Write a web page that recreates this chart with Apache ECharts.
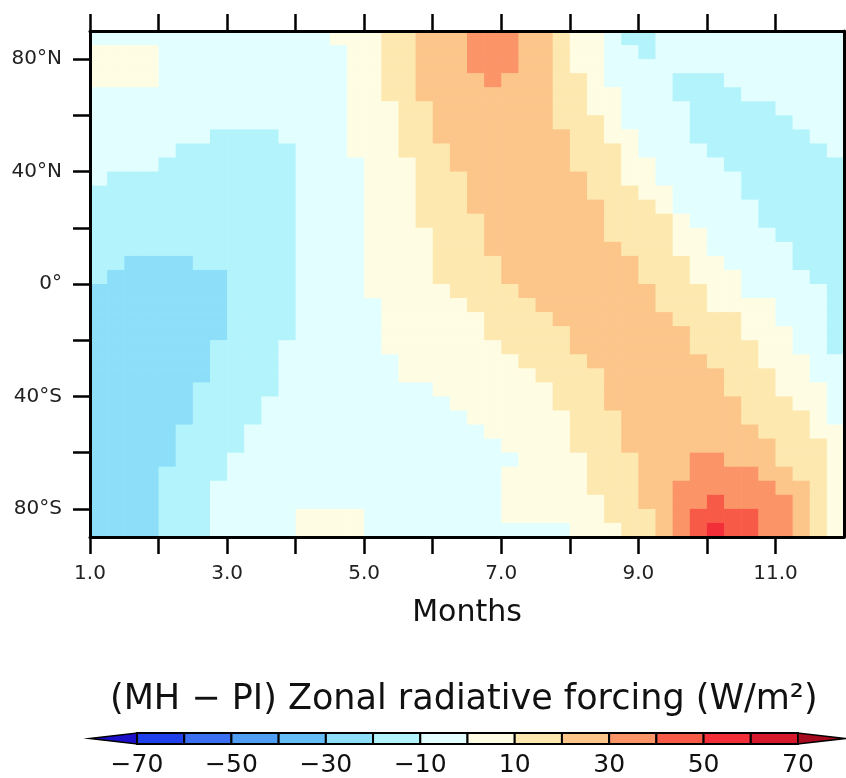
<!DOCTYPE html>
<html>
<head>
<meta charset="utf-8">
<script src="https://cdn.jsdelivr.net/npm/echarts@6/dist/echarts.min.js"></script>
<style>html,body{margin:0;padding:0;background:#fff}#chart{width:846px;height:778px}</style>
</head>
<body>
<div id="chart"></div>
<script>
// ---- data ----
const monthCenters = [1.125,1.375,1.625,1.875,2.125,2.375,2.625,2.875,3.125,3.375,3.625,3.875,
  4.125,4.375,4.625,4.875,5.125,5.375,5.625,5.875,6.125,6.375,6.625,6.875,7.125,7.375,7.625,7.875,
  8.125,8.375,8.625,8.875,9.125,9.375,9.625,9.875,10.125,10.375,10.625,10.875,11.125,11.375,11.625,11.875];
const latCenters = [87.5,82.5,77.5,72.5,67.5,62.5,57.5,52.5,47.5,42.5,37.5,32.5,27.5,22.5,17.5,12.5,7.5,2.5,
  -2.5,-7.5,-12.5,-17.5,-22.5,-27.5,-32.5,-37.5,-42.5,-47.5,-52.5,-57.5,-62.5,-67.5,-72.5,-77.5,-82.5,-87.5];
// forcing (W/m2), one row per latitude band (north to south), one value per quarter-month column
const forcing = [
 [-5,-5,-5,-5,-5,-5,-5,-5,-5,-5,-5,-5,-5,-5,5,5,5,15,15,25,25,25,35,35,35,25,25,15,5,5,-5,-15,-15,-5,-5,-5,-5,-5,-5,-5,-5,-5,-5,-5],
 [5,5,5,5,-5,-5,-5,-5,-5,-5,-5,-5,-5,-5,-5,5,5,15,15,25,25,25,35,35,35,25,25,15,5,5,-5,-5,-15,-5,-5,-5,-5,-5,-5,-5,-5,-5,-5,-5],
 [5,5,5,5,-5,-5,-5,-5,-5,-5,-5,-5,-5,-5,-5,5,5,15,15,25,25,25,35,35,35,25,25,15,5,5,-5,-5,-5,-5,-5,-5,-5,-5,-5,-5,-5,-5,-5,-5],
 [5,5,5,5,-5,-5,-5,-5,-5,-5,-5,-5,-5,-5,-5,5,5,15,15,25,25,25,25,35,25,25,25,15,15,5,-5,-5,-5,-5,-15,-15,-15,-5,-5,-5,-5,-5,-5,-5],
 [-5,-5,-5,-5,-5,-5,-5,-5,-5,-5,-5,-5,-5,-5,-5,5,5,15,15,25,25,25,25,25,25,25,25,15,15,5,5,-5,-5,-5,-15,-15,-15,-15,-5,-5,-5,-5,-5,-5],
 [-5,-5,-5,-5,-5,-5,-5,-5,-5,-5,-5,-5,-5,-5,-5,5,5,5,15,15,25,25,25,25,25,25,25,15,15,5,5,-5,-5,-5,-5,-15,-15,-15,-15,-15,-5,-5,-5,-5],
 [-5,-5,-5,-5,-5,-5,-5,-5,-5,-5,-5,-5,-5,-5,-5,5,5,5,15,15,25,25,25,25,25,25,25,15,15,15,5,-5,-5,-5,-5,-15,-15,-15,-15,-15,-15,-5,-5,-5],
 [-5,-5,-5,-5,-5,-5,-5,-15,-15,-15,-15,-5,-5,-5,-5,5,5,5,15,15,25,25,25,25,25,25,25,25,15,15,5,5,-5,-5,-5,-15,-15,-15,-15,-15,-15,-15,-5,-5],
 [-5,-5,-5,-5,-5,-15,-15,-15,-15,-15,-15,-15,-5,-5,-5,5,5,5,15,15,15,25,25,25,25,25,25,25,15,15,15,5,-5,-5,-5,-5,-15,-15,-15,-15,-15,-15,-15,-5],
 [-5,-5,-5,-5,-15,-15,-15,-15,-15,-15,-15,-15,-5,-5,-5,-5,5,5,5,15,15,25,25,25,25,25,25,25,15,15,15,5,5,-5,-5,-5,-5,-15,-15,-15,-15,-15,-15,-15],
 [-5,-15,-15,-15,-15,-15,-15,-15,-15,-15,-15,-15,-5,-5,-5,-5,5,5,5,15,15,15,25,25,25,25,25,25,25,15,15,5,5,-5,-5,-5,-5,-5,-15,-15,-15,-15,-15,-15],
 [-15,-15,-15,-15,-15,-15,-15,-15,-15,-15,-15,-15,-5,-5,-5,-5,5,5,5,15,15,15,25,25,25,25,25,25,25,15,15,15,5,5,-5,-5,-5,-5,-15,-15,-15,-15,-15,-15],
 [-15,-15,-15,-15,-15,-15,-15,-15,-15,-15,-15,-15,-5,-5,-5,-5,5,5,5,15,15,15,25,25,25,25,25,25,25,25,15,15,15,5,-5,-5,-5,-5,-5,-15,-15,-15,-15,-15],
 [-15,-15,-15,-15,-15,-15,-15,-15,-15,-15,-15,-15,-5,-5,-5,-5,5,5,5,15,15,15,15,25,25,25,25,25,25,25,15,15,15,15,5,-5,-5,-5,-5,-15,-15,-15,-15,-15],
 [-15,-15,-15,-15,-15,-15,-15,-15,-15,-15,-15,-15,-5,-5,-5,-5,5,5,5,5,15,15,15,25,25,25,25,25,25,25,15,15,15,15,5,5,-5,-5,-5,-5,-15,-15,-15,-15],
 [-15,-15,-15,-15,-15,-15,-15,-15,-15,-15,-15,-15,-5,-5,-5,-5,5,5,5,5,15,15,15,25,25,25,25,25,25,25,25,15,15,15,5,5,-5,-5,-5,-5,-5,-15,-15,-15],
 [-15,-15,-25,-25,-25,-25,-15,-15,-15,-15,-15,-15,-5,-5,-5,-5,5,5,5,5,15,15,15,15,25,25,25,25,25,25,25,25,15,15,15,5,5,-5,-5,-5,-5,-15,-15,-15],
 [-15,-25,-25,-25,-25,-25,-25,-25,-15,-15,-15,-15,-5,-5,-5,-5,5,5,5,5,15,15,15,15,25,25,25,25,25,25,25,25,15,15,15,5,5,5,-5,-5,-5,-5,-15,-15],
 [-25,-25,-25,-25,-25,-25,-25,-25,-15,-15,-15,-15,-5,-5,-5,-5,5,5,5,5,5,15,15,15,15,25,25,25,25,25,25,25,25,15,15,15,5,5,-5,-5,-5,-5,-5,-15],
 [-25,-25,-25,-25,-25,-25,-25,-25,-15,-15,-15,-15,-5,-5,-5,-5,-5,5,5,5,5,5,15,15,15,15,25,25,25,25,25,25,25,15,15,15,5,5,5,5,-5,-5,-5,-15],
 [-25,-25,-25,-25,-25,-25,-25,-25,-15,-15,-15,-15,-5,-5,-5,-5,-5,5,5,5,5,5,5,15,15,15,15,25,25,25,25,25,25,25,15,15,15,15,5,5,-5,-5,-5,-15],
 [-25,-25,-25,-25,-25,-25,-25,-25,-15,-15,-15,-15,-5,-5,-5,-5,-5,5,5,5,5,5,5,15,15,15,15,15,25,25,25,25,25,25,25,15,15,15,5,5,5,-5,-5,-15],
 [-25,-25,-25,-25,-25,-25,-25,-15,-15,-15,-15,-5,-5,-5,-5,-5,-5,5,5,5,5,5,5,5,15,15,15,15,25,25,25,25,25,25,25,15,15,15,15,5,5,-5,-5,-15],
 [-25,-25,-25,-25,-25,-25,-25,-15,-15,-15,-15,-5,-5,-5,-5,-5,-5,-5,5,5,5,5,5,5,5,15,15,15,15,25,25,25,25,25,25,25,15,15,15,5,5,5,-5,-5],
 [-25,-25,-25,-25,-25,-25,-25,-15,-15,-15,-15,-5,-5,-5,-5,-5,-5,-5,5,5,5,5,5,5,5,5,15,15,15,15,25,25,25,25,25,25,25,15,15,15,5,5,-5,-5],
 [-25,-25,-25,-25,-25,-25,-15,-15,-15,-15,-15,-5,-5,-5,-5,-5,-5,-5,-5,-5,5,5,5,5,5,5,5,15,15,15,25,25,25,25,25,25,25,15,15,15,5,5,5,-5],
 [-25,-25,-25,-25,-25,-25,-15,-15,-15,-15,-5,-5,-5,-5,-5,-5,-5,-5,-5,-5,-5,5,5,5,5,5,5,15,15,15,25,25,25,25,25,25,25,25,15,15,15,5,5,-5],
 [-25,-25,-25,-25,-25,-25,-15,-15,-15,-15,-5,-5,-5,-5,-5,-5,-5,-5,-5,-5,-5,-5,5,5,5,5,5,5,15,15,15,25,25,25,25,25,25,25,15,15,15,15,5,-5],
 [-25,-25,-25,-25,-25,-15,-15,-15,-15,-5,-5,-5,-5,-5,-5,-5,-5,-5,-5,-5,-5,-5,-5,5,5,5,5,5,15,15,15,25,25,25,25,25,25,25,25,15,15,15,5,5],
 [-25,-25,-25,-25,-25,-15,-15,-15,-15,-5,-5,-5,-5,-5,-5,-5,-5,-5,-5,-5,-5,-5,-5,-5,5,5,5,5,15,15,15,25,25,25,25,25,25,25,25,25,15,15,15,5],
 [-25,-25,-25,-25,-25,-15,-15,-15,-5,-5,-5,-5,-5,-5,-5,-5,-5,-5,-5,-5,-5,-5,-5,-5,-5,5,5,5,5,15,15,15,25,25,25,35,35,25,25,25,15,15,15,5],
 [-25,-25,-25,-25,-15,-15,-15,-15,-5,-5,-5,-5,-5,-5,-5,-5,-5,-5,-5,-5,-5,-5,-5,-5,5,5,5,5,5,15,15,15,25,25,25,35,35,35,35,25,25,15,15,5],
 [-25,-25,-25,-25,-15,-15,-15,-5,-5,-5,-5,-5,-5,-5,-5,-5,-5,-5,-5,-5,-5,-5,-5,-5,5,5,5,5,5,15,15,15,25,25,35,35,35,35,35,35,25,25,15,5],
 [-25,-25,-25,-25,-15,-15,-15,-5,-5,-5,-5,-5,-5,-5,-5,-5,-5,-5,-5,-5,-5,-5,-5,-5,5,5,5,5,5,5,15,15,25,25,35,35,45,35,35,35,35,25,15,5],
 [-25,-25,-25,-25,-15,-15,-15,-5,-5,-5,-5,-5,5,5,5,5,-5,-5,-5,-5,-5,-5,-5,-5,5,5,5,5,5,5,15,15,15,25,35,45,45,45,45,35,35,25,15,5],
 [-25,-25,-25,-25,-15,-15,-15,-5,-5,-5,-5,-5,5,5,5,5,-5,-5,-5,-5,-5,-5,-5,-5,-5,-5,-5,-5,5,5,5,15,15,25,35,45,55,45,45,35,35,25,15,5]
];
const levels = [-70,-60,-50,-40,-30,-20,-10,0,10,20,30,40,50,60,70];
const levelColors = ['#2040ec','#3b6ff2','#4f9ef4','#64bdf6','#8ddff9','#b3f4fc','#e2fefe',
  '#fefde4','#fde8b0','#fcc58a','#fb9466','#f85a48','#f22f38','#d5182c'];
const belowColor = '#1c10c8';
const aboveColor = '#a50a1e';
const monthTicks = [1,2,3,4,5,6,7,8,9,10,11];
const monthLabels = [1,3,5,7,9,11];
const latTicks = [-80,-60,-40,-20,0,20,40,60,80];
const latLabels = [-80,-40,0,40,80];
const barLabels = [-70,-50,-30,-10,10,30,50,70];

// ---- build ----
const CELL_W = 0.25, CELL_H = 5;
const cells = [];
latCenters.forEach((lat, r) => {
  monthCenters.forEach((m, c) => cells.push([m, lat, forcing[r][c]]));
});
const step = levels[1] - levels[0];
const barData = [[levels[0] - step, levels[0], -1]];
for (let k = 0; k < levelColors.length; k++) barData.push([levels[k], levels[k + 1], k]);
barData.push([levels[levels.length - 1], levels[levels.length - 1] + step, levelColors.length]);

const pieces = [{lt: levels[0], color: belowColor}];
for (let k = 0; k < levelColors.length; k++) pieces.push({gte: levels[k], lt: levels[k + 1], color: levelColors[k]});
pieces.push({gte: levels[levels.length - 1], color: aboveColor});

const FONT = 'DejaVu Sans';
const minus = s => String(s).replace('-', '\u2212');
const latFmt = v => v > 0 ? v + '°N' : (v < 0 ? (-v) + '°S' : '0°');

function renderCell(params, api) {
  const m = api.value(0), lat = api.value(1);
  const a = api.coord([m - CELL_W / 2, lat + CELL_H / 2]);
  const b = api.coord([m + CELL_W / 2, lat - CELL_H / 2]);
  return {type: 'rect', shape: {x: a[0], y: a[1], width: b[0] - a[0] + 0.6, height: b[1] - a[1] + 0.6},
    style: {fill: api.visual('color')}};
}
function renderBar(params, api) {
  const lo = api.value(0), hi = api.value(1), k = api.value(2);
  if (k < 0 || k >= levelColors.length) {
    const tip = k < 0 ? lo : hi, base = k < 0 ? hi : lo;
    return {type: 'polygon', shape: {points: [api.coord([tip, 0.5]), api.coord([base, 1]), api.coord([base, 0])]},
      style: {fill: k < 0 ? belowColor : aboveColor, stroke: '#000', lineWidth: 1.5}};
  }
  const a = api.coord([lo, 1]), b = api.coord([hi, 0]);
  return {type: 'rect', shape: {x: a[0], y: a[1], width: b[0] - a[0], height: b[1] - a[1]},
    style: {fill: levelColors[k], stroke: '#000', lineWidth: 2}};
}

const axisLine = {show: true, onZero: false, lineStyle: {color: '#000', width: 3}};
const tick = vals => ({show: true, inside: false, length: 17, customValues: vals, lineStyle: {color: '#000', width: 2.5}});

const chart = echarts.init(document.getElementById('chart'), null, {renderer: 'canvas'});
chart.setOption({
  animation: false,
  backgroundColor: '#fff',
  textStyle: {fontFamily: FONT},
  title: {
    text: '(MH \u2212 PI) Zonal radiative forcing (W/m²)',
    left: 105, top: 677,
    textStyle: {fontFamily: FONT, fontSize: 35, fontWeight: 'normal', color: '#111'}
  },
  grid: [
    {left: 90, right: 2, top: 31, height: 506},
    {left: 137, right: 48, top: 733, height: 12}
  ],
  xAxis: [
    {gridIndex: 0, type: 'value', position: 'bottom', min: 1, max: 12, z: 10,
      axisLine, axisTick: tick(monthTicks), splitLine: {show: false},
      axisLabel: {customValues: monthLabels, formatter: v => v.toFixed(1), fontSize: 20, color: '#222', margin: 27, fontFamily: FONT},
      name: 'Months', nameLocation: 'middle', nameGap: 61,
      nameTextStyle: {fontSize: 30, color: '#111', fontFamily: FONT}},
    {gridIndex: 0, type: 'value', position: 'top', min: 1, max: 12, z: 10,
      axisLine, axisTick: tick(monthTicks), splitLine: {show: false}, axisLabel: {show: false}},
    {gridIndex: 1, type: 'value', min: -70, max: 70, axisLine: {show: false}, axisTick: {show: false},
      splitLine: {show: false},
      axisLabel: {customValues: barLabels, formatter: minus, fontSize: 25, color: '#111', margin: 9, fontFamily: FONT}}
  ],
  yAxis: [
    {gridIndex: 0, type: 'value', position: 'left', min: -90, max: 90, z: 10,
      axisLine, axisTick: tick(latTicks), splitLine: {show: false},
      axisLabel: {customValues: latLabels, formatter: latFmt, fontSize: 20, color: '#222', margin: 28, fontFamily: FONT}},
    {gridIndex: 0, type: 'value', position: 'right', min: -90, max: 90, z: 10,
      axisLine, axisTick: tick(latTicks), splitLine: {show: false}, axisLabel: {show: false}},
    {gridIndex: 1, type: 'value', min: 0, max: 1, show: false}
  ],
  visualMap: {type: 'piecewise', show: false, seriesIndex: 0, dimension: 2, pieces},
  series: [
    {type: 'custom', xAxisIndex: 0, yAxisIndex: 0, z: 1, clip: true, renderItem: renderCell,
      data: cells, silent: true},
    {type: 'custom', xAxisIndex: 2, yAxisIndex: 2, z: 2, clip: false, renderItem: renderBar,
      data: barData, silent: true}
  ]
});
</script>
</body>
</html>
